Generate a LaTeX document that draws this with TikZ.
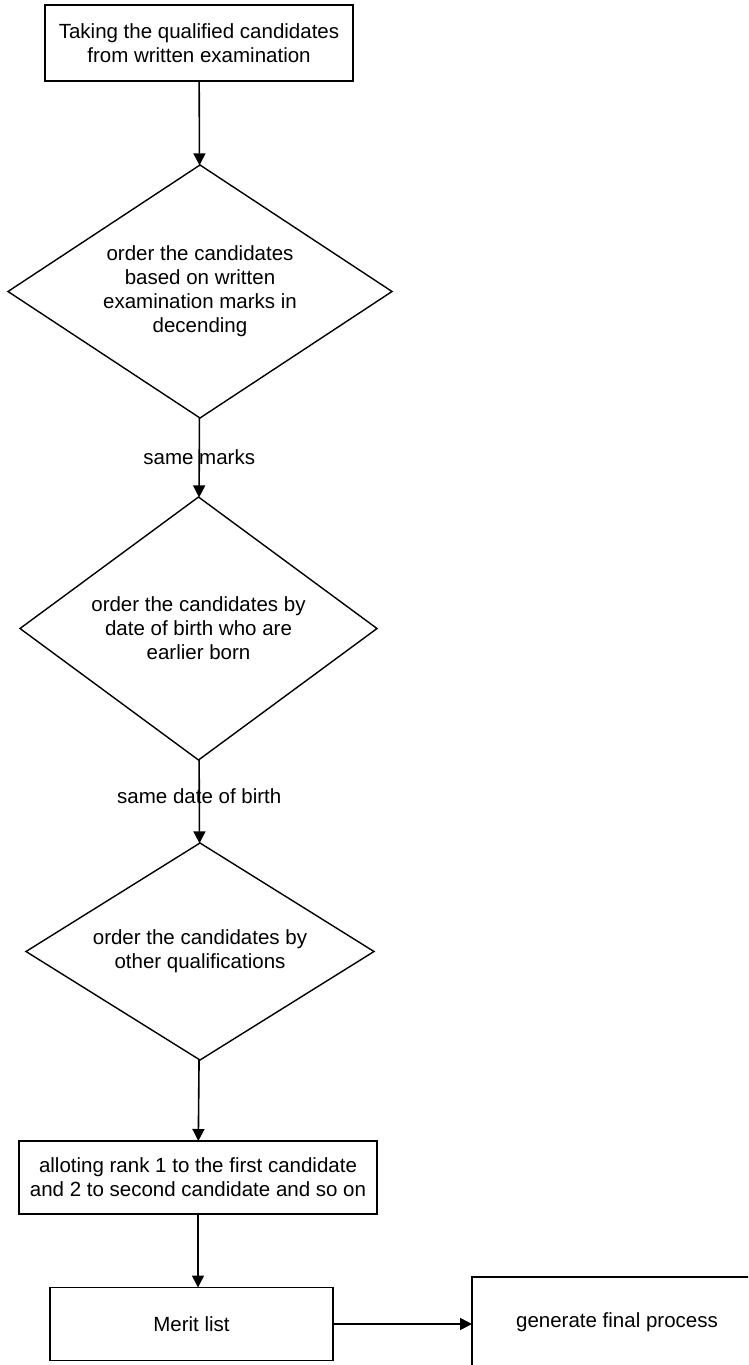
\documentclass[tikz,border=0pt]{standalone}
\usepackage{fontspec}
\setmainfont{Liberation Sans}
\usepackage{tikz}
\usetikzlibrary{arrows.meta, shapes.geometric, positioning}

\begin{document}
\begin{tikzpicture}[>={Triangle[length=12pt,width=12pt]}, x=1pt, y=-1pt,
    txt/.style={font=\fontsize{20.5}{24}\selectfont, align=center},
    procbox/.style={txt, draw, line width=1.6pt, inner sep=0pt, outer sep=0pt},
    decision/.style={txt, draw, diamond, line width=1.4pt, inner sep=0pt, outer sep=0pt},
    flow/.style={->, line width=1.6pt}]
    % Page
    \useasboundingbox (0,0) rectangle (748,1365);
    \clip (0,0) rectangle (748,1365);

    % Boxes and decisions
    \node[procbox, minimum width=308pt, minimum height=76pt] (take) at (199,43)
        {Taking the qualified candidates\\from written examination};
    \node[decision, aspect=1.52, minimum width=384pt, minimum height=253pt] (marks) at (200,291.5)
        {order the candidates\\based on written\\examination marks in\\decending};
    \node[decision, aspect=1.36, minimum width=357pt, minimum height=263pt] (birth) at (198.5,628.5)
        {order the candidates by\\date of birth who are\\earlier born};
    \node[decision, aspect=1.6, minimum width=348pt, minimum height=217pt] (other) at (200,951.5)
        {order the candidates by\\other qualifications};
    \node[procbox, minimum width=358pt, minimum height=73pt] (rank) at (198,1177.5)
        {alloting rank 1 to the first candidate\\and 2 to second candidate and so on};
    \node[procbox, minimum width=283pt, minimum height=73pt] (merit) at (191.5,1324)
        {Merit list};
    \node[procbox, minimum width=290pt, minimum height=90pt] (final) at (617,1322)
        {generate final process};

    % Connectors
    \draw[flow] (take) -- (marks);
    \draw[flow] (marks) -- node[txt] {same marks} (birth);
    \draw[flow] (birth) -- node[txt, pos=0.44] {same date of birth} (other);
    \draw[flow] (other) -- (rank);
    \draw[flow] (rank) -- (rank |- merit.north);
    \draw[flow] (merit.east) -- (merit.east -| final.west);
\end{tikzpicture}
\end{document}
